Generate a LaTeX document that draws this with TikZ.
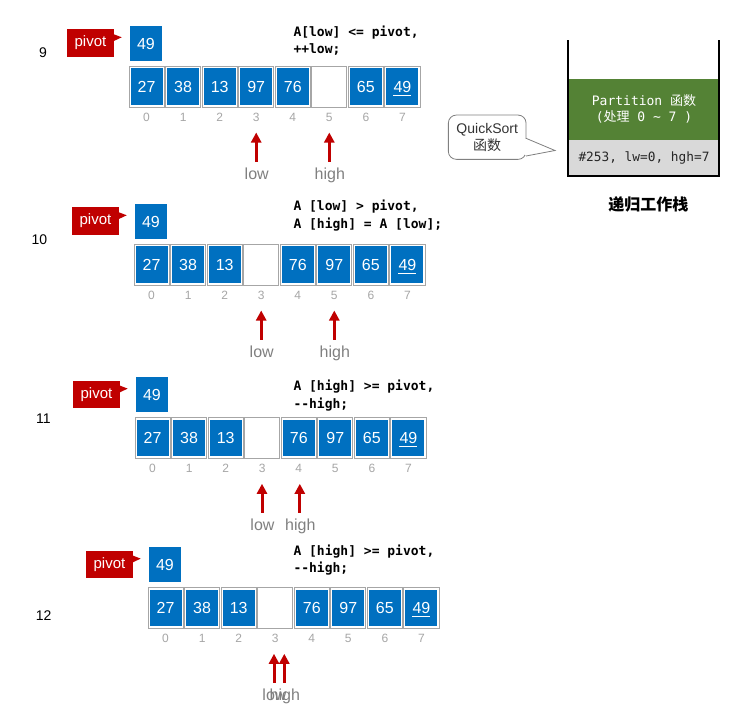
\documentclass[tikz,border=0pt]{standalone}
\usepackage{fontspec}
\setmainfont{Liberation Sans}
\setmonofont{DejaVu Sans Mono}
\newfontfamily\cjk{Noto Sans CJK SC}
\usetikzlibrary{arrows.meta}
\definecolor{cblue}{HTML}{0070C0}
\definecolor{cred}{HTML}{C00000}
\definecolor{cgreen}{HTML}{548235}
\definecolor{cstack}{HTML}{D9D9D9}
\definecolor{cframe}{HTML}{A6A6A6}
\definecolor{cidx}{HTML}{A6A6A6}
\definecolor{clab}{HTML}{808080}
\tikzset{
 pivotbox/.style={fill=cred, text=white, minimum width=47.6pt, minimum height=27.4pt, inner sep=0pt, font=\fontsize{15}{15}\selectfont},
 valbox/.style={fill=cblue, text=white, minimum width=32pt, minimum height=35pt, inner sep=0pt, font=\fontsize{16}{16}\selectfont},
 cellframe/.style={draw=cframe, line width=1pt},
 cellval/.style={fill=cblue, text=white, minimum width=31.9pt, minimum height=36.4pt, inner sep=0pt, font=\fontsize{16}{16}\selectfont},
 idx/.style={text=cidx, font=\fontsize{12}{12}\selectfont, inner sep=0pt},
 ptrlab/.style={text=clab, font=\fontsize{16}{16}\selectfont, inner sep=0pt, anchor=base},
 ptr/.style={draw=cred, line width=3pt, -{Triangle[width=10pt,length=10pt]}},
 steplab/.style={font=\fontsize{14}{14}\selectfont, inner sep=0pt},
 codeline/.style={font=\ttfamily\bfseries\fontsize{13}{13}\selectfont, anchor=base west, inner sep=0pt},
}
% #1 id, #2 array left x, #3 array top y, #4 list of index/value pairs
\newcommand\arraypanel[4]{%
  \node[pivotbox] (pv#1) at ({#2-37.8},{#3-23}) {pivot};
  \fill[cred] ({#2-14.4},{#3-31.7}) -- ({#2-6.6},{#3-28.7}) -- ({#2-14.4},{#3-25}) -- cycle;
  \node[valbox] (pval#1) at ({#2+17.7},{#3-22.5}) {49};
  \foreach \i in {0,...,7}{
    \draw[cellframe] ({#2+\i*36.55+0.7},#3) rectangle ({#2+(\i+1)*36.55-0.7},{#3+41});
    \node[idx] (ix#1-\i) at ({#2+(\i+0.5)*36.55},{#3+51.5}) {\i};
  }
  \foreach \i/\v in {#4}{
    \node[cellval] (c#1-\i) at ({#2+(\i+0.5)*36.55},{#3+20.5}) {\v};
  }
  \draw[white, line width=1.3pt] ({#2+7.5*36.55-9},{#3+29.3}) -- ({#2+7.5*36.55+9},{#3+29.3});
}
% #1 name, #2 x, #3 array top y, #4 label
\newcommand\pointer[4]{%
  \coordinate (#1s) at (#2,{#3+95.5});
  \coordinate (#1e) at (#2,{#3+66.5});
  \draw[ptr] (#1s) -- (#1e);
  \node[ptrlab] (#1l) at ({#2+0.5},{#3+113}) {#4};
}
\begin{document}
\begin{tikzpicture}[x=1pt,y=-1pt]
\useasboundingbox (0,0) rectangle (734,718);
\fill[white] (0,0) rectangle (734,718);

% ---------- step 9
\node[steplab] (s9) at (43,53) {9};
\arraypanel{p9}{128.3}{66}{0/27,1/38,2/13,3/97,4/76,6/65,7/49}
\pointer{p9low}{256.2}{66}{low}
\pointer{p9high}{329.3}{66}{high}
\node[codeline] (t9a) at (293.3,36.5) {A[low] <= pivot,};
\node[codeline] (t9b) at (293.3,53.5) {++low;};

% ---------- step 10
\node[steplab] (s10) at (39.3,239.3) {10};
\arraypanel{p10}{133.3}{244}{0/27,1/38,2/13,4/76,5/97,6/65,7/49}
\pointer{p10low}{261.2}{244}{low}
\pointer{p10high}{334.3}{244}{high}
\node[codeline] (t10a) at (293.3,210.9) {A [low] > pivot,};
\node[codeline] (t10b) at (293.3,228.5) {A [high] = A [low];};

% ---------- step 11
\node[steplab] (s11) at (43.3,419) {11};
\arraypanel{p11}{134.3}{417.3}{0/27,1/38,2/13,4/76,5/97,6/65,7/49}
\pointer{p11low}{262}{417.3}{low}
\pointer{p11high}{299.8}{417.3}{high}
\node[codeline] (t11a) at (293.3,390.9) {A [high] >= pivot,};
\node[codeline] (t11b) at (293.3,408.5) {-{}-high;};

% ---------- step 12
\node[steplab] (s12) at (43.7,616) {12};
\arraypanel{p12}{147.3}{587.3}{0/27,1/38,2/13,4/76,5/97,6/65,7/49}
\pointer{p12low}{274}{587.3}{low}
\pointer{p12high}{284.3}{587.3}{high}
\node[codeline] (t12a) at (293.3,555.9) {A [high] >= pivot,};
\node[codeline] (t12b) at (293.3,572.2) {-{}-high;};

% ---------- recursion stack
\fill[cgreen] (568.3,79.3) rectangle (719.3,140);
\fill[cstack] (568.3,140) rectangle (719.3,175.7);
\draw[line width=2pt] (568.3,40) -- (568.3,175.7) -- (719.3,175.7) -- (719.3,40);
\node[text=white, align=center, inner sep=0pt, font=\ttfamily\fontsize{13}{16.6}\selectfont] (part) at (644,109)
  {Partition {\cjk 函数}\\({\cjk 处理} 0 \textasciitilde{} 7 )};
\node[text=black!85, inner sep=0pt, font=\ttfamily\fontsize{12.8}{12.8}\selectfont] (frm) at (644,157.7) {\#253, lw=0, hgh=7};
\node[inner sep=0pt, font=\cjk\bfseries\fontsize{16}{16}\selectfont] (title) at (648.3,204) {递归工作栈};

% ---------- callout
\node[draw=clab, line width=0.8pt, rounded corners=8pt, fill=white, minimum width=77.7pt, minimum height=44.3pt,
      align=center, inner sep=0pt, text=black!80, font=\fontsize{14}{17}\selectfont] (qs) at (487.2,137.2)
  {QuickSort\\{\cjk 函数}};
\coordinate (qstip) at (555,150.5);
\filldraw[draw=clab, fill=white, line width=0.8pt] (526,138.3) -- (qstip) -- (526,156);
\fill[white] (525.2,139) rectangle (527,155.3);
\end{tikzpicture}
\end{document}
